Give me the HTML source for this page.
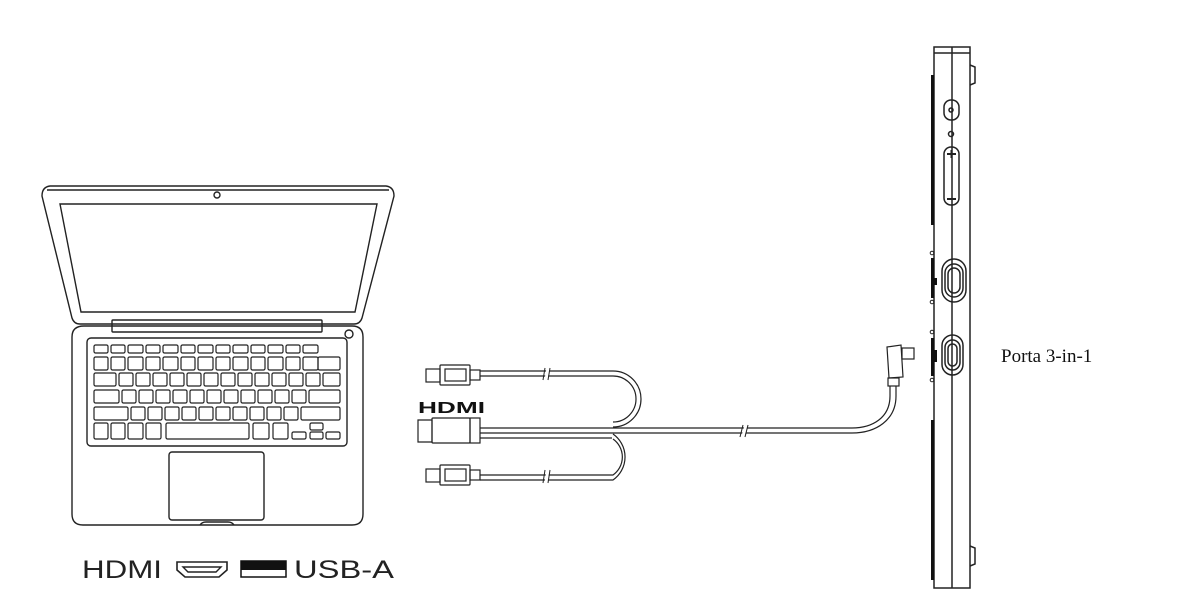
<!DOCTYPE html>
<html><head><meta charset="utf-8"><style>
html,body{margin:0;padding:0;background:#fff;}
svg{display:block}
</style></head><body>
<svg width="1196" height="610" viewBox="0 0 1196 610" xmlns="http://www.w3.org/2000/svg">
<g fill="none" stroke="#222" stroke-width="1.4">
<!-- Laptop lid -->
<path d="M50 186 L386 186 Q394 187 394 196 L362 318 Q360 324 354 324 L80 324 Q74 324 72 318 L42 196 Q42 187 50 186 Z"/>
<path d="M47 190 L389 190"/>
<path d="M60 204 L377 204 L355 312 L81 312 Z"/>
<circle cx="217" cy="195" r="3"/>
<rect x="112" y="320" width="210" height="12" rx="1"/>
<path d="M84 326 L352 326 Q363 326 363 337 L363 514 Q363 525 352 525 L83 525 Q72 525 72 514 L72 337 Q72 326 84 326 Z"/>
<circle cx="349" cy="334" r="4"/>
<rect x="87" y="338" width="260" height="108" rx="4"/>
<rect x="169" y="452" width="95" height="68" rx="3"/>
<path d="M200 525 Q202 522 206 522 L228 522 Q232 522 234 525"/>
<g stroke-width="1.2">
<rect x="94" y="345" width="14" height="8" rx="1.5"/><rect x="111" y="345" width="14" height="8" rx="1.5"/><rect x="128" y="345" width="15" height="8" rx="1.5"/><rect x="146" y="345" width="14" height="8" rx="1.5"/><rect x="163" y="345" width="15" height="8" rx="1.5"/><rect x="181" y="345" width="14" height="8" rx="1.5"/><rect x="198" y="345" width="15" height="8" rx="1.5"/><rect x="216" y="345" width="14" height="8" rx="1.5"/><rect x="233" y="345" width="15" height="8" rx="1.5"/><rect x="251" y="345" width="14" height="8" rx="1.5"/><rect x="268" y="345" width="15" height="8" rx="1.5"/><rect x="286" y="345" width="14" height="8" rx="1.5"/><rect x="303" y="345" width="15" height="8" rx="1.5"/>
<rect x="94" y="357" width="14" height="13" rx="1.5"/><rect x="111" y="357" width="14" height="13" rx="1.5"/><rect x="128" y="357" width="15" height="13" rx="1.5"/><rect x="146" y="357" width="14" height="13" rx="1.5"/><rect x="163" y="357" width="15" height="13" rx="1.5"/><rect x="181" y="357" width="14" height="13" rx="1.5"/><rect x="198" y="357" width="15" height="13" rx="1.5"/><rect x="216" y="357" width="14" height="13" rx="1.5"/><rect x="233" y="357" width="15" height="13" rx="1.5"/><rect x="251" y="357" width="14" height="13" rx="1.5"/><rect x="268" y="357" width="15" height="13" rx="1.5"/><rect x="286" y="357" width="14" height="13" rx="1.5"/><rect x="303" y="357" width="15" height="13" rx="1.5"/><rect x="318" y="357" width="22" height="13" rx="1.5"/>
<rect x="94" y="373" width="22" height="13" rx="1.5"/><rect x="119" y="373" width="14" height="13" rx="1.5"/><rect x="136" y="373" width="14" height="13" rx="1.5"/><rect x="153" y="373" width="14" height="13" rx="1.5"/><rect x="170" y="373" width="14" height="13" rx="1.5"/><rect x="187" y="373" width="14" height="13" rx="1.5"/><rect x="204" y="373" width="14" height="13" rx="1.5"/><rect x="221" y="373" width="14" height="13" rx="1.5"/><rect x="238" y="373" width="14" height="13" rx="1.5"/><rect x="255" y="373" width="14" height="13" rx="1.5"/><rect x="272" y="373" width="14" height="13" rx="1.5"/><rect x="289" y="373" width="14" height="13" rx="1.5"/><rect x="306" y="373" width="14" height="13" rx="1.5"/><rect x="323" y="373" width="17" height="13" rx="1.5"/>
<rect x="94" y="390" width="25" height="13" rx="1.5"/><rect x="122" y="390" width="14" height="13" rx="1.5"/><rect x="139" y="390" width="14" height="13" rx="1.5"/><rect x="156" y="390" width="14" height="13" rx="1.5"/><rect x="173" y="390" width="14" height="13" rx="1.5"/><rect x="190" y="390" width="14" height="13" rx="1.5"/><rect x="207" y="390" width="14" height="13" rx="1.5"/><rect x="224" y="390" width="14" height="13" rx="1.5"/><rect x="241" y="390" width="14" height="13" rx="1.5"/><rect x="258" y="390" width="14" height="13" rx="1.5"/><rect x="275" y="390" width="14" height="13" rx="1.5"/><rect x="292" y="390" width="14" height="13" rx="1.5"/><rect x="309" y="390" width="31" height="13" rx="1.5"/>
<rect x="94" y="407" width="34" height="13" rx="1.5"/><rect x="131" y="407" width="14" height="13" rx="1.5"/><rect x="148" y="407" width="14" height="13" rx="1.5"/><rect x="165" y="407" width="14" height="13" rx="1.5"/><rect x="182" y="407" width="14" height="13" rx="1.5"/><rect x="199" y="407" width="14" height="13" rx="1.5"/><rect x="216" y="407" width="14" height="13" rx="1.5"/><rect x="233" y="407" width="14" height="13" rx="1.5"/><rect x="250" y="407" width="14" height="13" rx="1.5"/><rect x="267" y="407" width="14" height="13" rx="1.5"/><rect x="284" y="407" width="14" height="13" rx="1.5"/><rect x="301" y="407" width="39" height="13" rx="1.5"/>
<rect x="94" y="423" width="14" height="16" rx="1.5"/><rect x="111" y="423" width="14" height="16" rx="1.5"/><rect x="128" y="423" width="15" height="16" rx="1.5"/><rect x="146" y="423" width="15" height="16" rx="1.5"/><rect x="166" y="423" width="83" height="16" rx="1.5"/><rect x="253" y="423" width="16" height="16" rx="1.5"/><rect x="273" y="423" width="15" height="16" rx="1.5"/><rect x="292" y="432" width="14" height="7" rx="1.5"/><rect x="310" y="423" width="13" height="7" rx="1.5"/><rect x="310" y="432" width="13" height="7" rx="1.5"/><rect x="326" y="432" width="14" height="7" rx="1.5"/>
</g>
<path d="M177 562 L227 562 L227 570 L219 577 L185 577 L177 570 Z" stroke-width="1.6"/>
<path d="M183 567 L221 567 L216 572 L188 572 Z" stroke-width="1.4"/>
</g>
<rect x="241" y="561" width="45" height="9" fill="#111"/>
<rect x="241" y="561" width="45" height="16" fill="none" stroke="#111" stroke-width="1.5"/>
<text x="82" y="578" font-family="Liberation Sans, sans-serif" font-size="25" fill="#222" textLength="80" lengthAdjust="spacingAndGlyphs">HDMI</text>
<text x="294" y="578" font-family="Liberation Sans, sans-serif" font-size="25" fill="#222" textLength="100" lengthAdjust="spacingAndGlyphs">USB-A</text>

<!-- Cable -->
<g fill="none" stroke="#222" stroke-width="1.2">
<rect x="426" y="369" width="14" height="13"/>
<rect x="440" y="365" width="30" height="20" rx="1"/>
<rect x="445" y="369" width="21" height="12"/>
<rect x="470" y="370" width="10" height="10"/>
<path d="M480 371 L613 371 A28 28 0 0 1 613 427"/>
<path d="M480 376 L613 376 A23 23 0 0 1 613 422"/>
<rect x="426" y="469" width="14" height="13"/>
<rect x="440" y="465" width="30" height="20" rx="1"/>
<rect x="445" y="469" width="21" height="12"/>
<rect x="470" y="470" width="10" height="10"/>
<path d="M480 480 L613 480 A28 28 0 0 0 613 434"/>
<path d="M480 475 L613 475 A22 22 0 0 0 613 439"/>
<path d="M418 420 L432 420 L432 442 L418 442 Z"/>
<rect x="432" y="418" width="38" height="25" rx="1"/>
<rect x="470" y="418" width="10" height="25"/>
<path d="M480 428 L852 428 C872 428 890 418 890 396 L890 386"/>
<path d="M480 433 L852 433 C876 433 896 420 896 396 L896 386"/>
<path d="M480 438 L612 438"/>
<rect x="888" y="378" width="11" height="8"/>
<path d="M887 347 L901 345 L903 377 L889 378 Z"/>
<rect x="902" y="348" width="12" height="11"/>
</g>
<g stroke="#fff" stroke-width="3"><path d="M548 368 L546 380"/><path d="M548 470 L546 483"/><path d="M746 426 L743 436"/></g>
<g stroke="#222" stroke-width="1"><path d="M545 368 L543 380"/><path d="M550 368 L548 380"/><path d="M545 470 L543 483"/><path d="M550 470 L548 483"/><path d="M743 425 L740 437"/><path d="M748 425 L745 437"/></g>
<text x="418" y="413" font-family="Liberation Sans, sans-serif" font-weight="bold" font-size="16" fill="#111" textLength="67" lengthAdjust="spacingAndGlyphs">HDMI</text>

<!-- Monitor -->
<g fill="none" stroke="#222" stroke-width="1.5">
<rect x="934" y="47" width="36" height="541"/>
<path d="M952 47 L952 588"/>
<path d="M934 53 L970 53"/>
<path d="M970 65 L975 67 L975 83 L970 85"/>
<path d="M970 546 L975 548 L975 564 L970 566"/>
<rect x="944" y="100" width="15" height="20" rx="7"/>
<circle cx="951" cy="110" r="2"/>
<circle cx="951" cy="134" r="2.5"/>
<rect x="944" y="147" width="15" height="58" rx="7"/>
<path d="M947 199 L956 199" stroke-width="2"/>
<path d="M947 154 L956 154 M951.5 150 L951.5 158" stroke-width="2"/>
<rect x="942" y="259" width="24" height="43" rx="12"/>
<rect x="945" y="264" width="18" height="33" rx="9"/>
<rect x="948" y="268" width="12" height="25" rx="6"/>
<rect x="942" y="335" width="21" height="40" rx="10.5"/>
<rect x="945" y="340" width="15" height="30" rx="7.5"/>
<rect x="948" y="344" width="9" height="22" rx="4.5"/>
<circle cx="932" cy="253" r="1.8" stroke-width="1"/><circle cx="932" cy="302" r="1.8" stroke-width="1"/>
<circle cx="932" cy="332" r="1.8" stroke-width="1"/><circle cx="932" cy="380" r="1.8" stroke-width="1"/>
</g>
<g fill="#111">
<rect x="931" y="75" width="3" height="150"/>
<rect x="931" y="258" width="3" height="40"/>
<rect x="934" y="278" width="3" height="7"/>
<rect x="931" y="338" width="3" height="38"/>
<rect x="934" y="350" width="3" height="12"/>
<rect x="931" y="420" width="3" height="160"/>
</g>
<text x="1001" y="362" font-family="Liberation Serif, serif" font-size="19" fill="#111">Porta 3-in-1</text>
</svg>
</body></html>
